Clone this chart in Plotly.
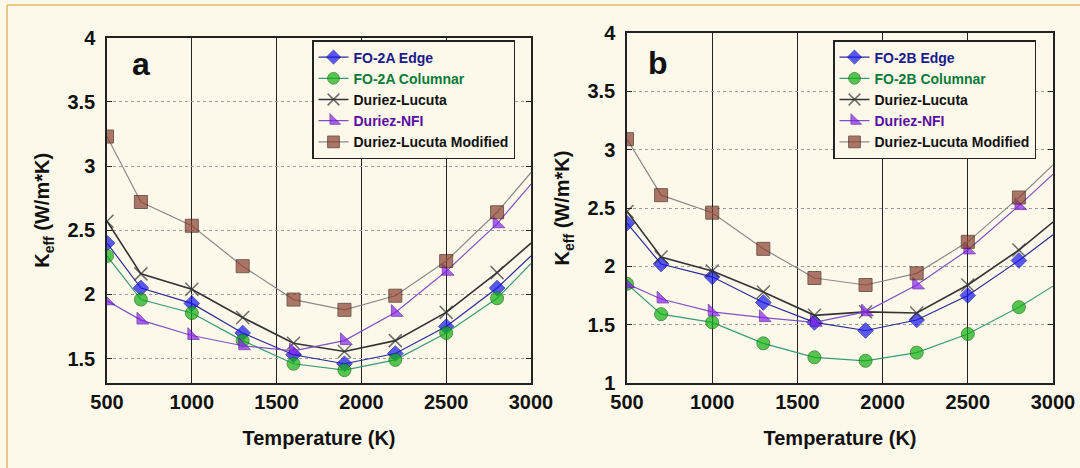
import plotly.graph_objects as go

temps = [500, 700, 1000, 1300, 1600, 1900, 2200, 2500, 2800, 3000]

# Panel a (FO-2A)
a_edge = [2.40, 2.05, 1.93, 1.70, 1.53, 1.46, 1.54, 1.75, 2.05, 2.30]
a_col = [2.30, 1.96, 1.855, 1.64, 1.46, 1.41, 1.49, 1.70, 1.97, 2.24]
a_dl = [2.57, 2.16, 2.04, 1.82, 1.62, 1.555, 1.64, 1.86, 2.17, 2.40]
a_nfi = [1.95, 1.80, 1.68, 1.60, 1.56, 1.64, 1.86, 2.18, 2.55, 2.86]
a_mod = [3.23, 2.72, 2.535, 2.22, 1.96, 1.88, 1.99, 2.26, 2.64, 2.95]

# Panel b (FO-2B)
b_edge = [2.37, 2.02, 1.91, 1.69, 1.52, 1.45, 1.54, 1.75, 2.05, 2.27]
b_col = [1.85, 1.59, 1.52, 1.34, 1.22, 1.19, 1.26, 1.42, 1.65, 1.83]
b_dl = [2.47, 2.08, 1.96, 1.78, 1.58, 1.61, 1.60, 1.84, 2.14, 2.38]
b_nfi = [1.85, 1.72, 1.61, 1.56, 1.52, 1.61, 1.84, 2.14, 2.52, 2.79]
b_mod = [3.09, 2.61, 2.46, 2.15, 1.90, 1.84, 1.94, 2.21, 2.59, 2.87]

x_ticks = [500, 1000, 1500, 2000, 2500, 3000]
a_yticks = [1.5, 2, 2.5, 3, 3.5, 4]
b_yticks = [1, 1.5, 2, 2.5, 3, 3.5, 4]

BG = "#fdf9ea"
FONT = "Liberation Sans, Arial, sans-serif"

styles = [
    # name template, line color, marker symbol, fill, outline, size, line width, text color
    ("FO-2{} Edge", "#2a2a9a", "diamond", "#1515f0", "#0a0aa0", 12, 1.2, "#1a1a8a"),
    ("FO-2{} Columnar", "#3a9a78", "circle", "#10b010", "#0a6a0a", 13, 1.2, "#0a7a3a"),
    ("Duriez-Lucuta", "#333333", "x-thin-open", "#333333", "#333333", 13, 1.6, "#111111"),
    ("Duriez-NFI", "#8050c8", "triangle-sw", "#8a20f0", "#5010a0", 13, 1.2, "#5a10a0"),
    ("Duriez-Lucuta Modified", "#8a8a8a", "square", "#8a4030", "#3a1a10", 13, 1.2, "#111111"),
]

fig = go.Figure()

panels = [
    ("A", [a_edge, a_col, a_dl, a_nfi, a_mod], "x", "y", "legend"),
    ("B", [b_edge, b_col, b_dl, b_nfi, b_mod], "x2", "y2", "legend2"),
]

n = len(temps)
for tag, series, xa, ya, lg in panels:
    for (tmpl, lc, sym, fill, outl, sz, lw, tc), vals in zip(styles, series):
        name = tmpl.format(tag) if "{}" in tmpl else tmpl
        sizes = [sz] * (n - 1) + [0]
        fig.add_trace(go.Scatter(
            x=temps, y=vals, xaxis=xa, yaxis=ya, legend=lg,
            mode="lines+markers",
            name=f"<span style='color:{tc}'>{name}</span>",
            line=dict(color=lc, width=lw),
            marker=dict(symbol=sym, size=sizes, color=fill,
                        line=dict(color=outl, width=1.5 if sym == "x-thin-open" else 1)),
            cliponaxis=True,
        ))

xdom_a = [107 / 1080, 531 / 1080]
xdom_b = [627 / 1080, 1053 / 1080]
ydom_a = [1 - 383 / 468, 1 - 37.7 / 468]
ydom_b = [1 - 383 / 468, 1 - 33 / 468]

def xaxis(dom, anchor):
    return dict(
        domain=dom, anchor=anchor, range=[500, 3000], automargin=False,
        tickvals=x_ticks, ticktext=[str(v) for v in x_ticks],
        showgrid=True, gridcolor="#222222", gridwidth=1.3,
        showline=True, linecolor="#222222", linewidth=1.5, mirror="ticks",
        ticks="inside", ticklen=5, tickcolor="#222222",
        tickfont=dict(family=FONT, size=20, color="#111111", weight="bold"),
        title=dict(text="Temperature (K)", standoff=19,
                   font=dict(family=FONT, size=20, color="#111111", weight="bold")),
        zeroline=False,
    )

def yaxis(dom, anchor, rng, ticks):
    return dict(
        domain=dom, anchor=anchor, range=rng, automargin=False,
        tickvals=ticks, ticktext=[("%g" % v) for v in ticks],
        showgrid=True, gridcolor="#9a9a9a", gridwidth=1, griddash="dot",
        showline=True, linecolor="#222222", linewidth=1.5, mirror="ticks",
        ticks="inside", ticklen=5, tickcolor="#222222",
        ticklabelstandoff=6,
        tickfont=dict(family=FONT, size=20, color="#111111", weight="bold"),
        title=dict(text="K<sub>eff</sub> (W/m*K)", standoff=12,
                   font=dict(family=FONT, size=20, color="#111111", weight="bold")),
        zeroline=False,
    )

legend_common = dict(
    bgcolor=BG, bordercolor="#222222", borderwidth=1.5,
    font=dict(family=FONT, size=14, color="#111111", weight="bold"),
    xanchor="left", yanchor="top", xref="paper", yref="paper",
    tracegroupgap=0, itemclick=False,
)

fig.update_layout(
    width=1080, height=468,
    margin=dict(l=0, r=0, t=0, b=0, autoexpand=False),
    paper_bgcolor=BG, plot_bgcolor=BG,
    xaxis=xaxis(xdom_a, "y"),
    yaxis=yaxis(ydom_a, "x", [1.31, 4], a_yticks),
    xaxis2=xaxis(xdom_b, "y2"),
    yaxis2=yaxis(ydom_b, "x2", [1, 4], b_yticks),
    legend=dict(x=312 / 1080, y=1 - 40 / 468, **legend_common),
    legend2=dict(x=833 / 1080, y=1 - 40 / 468, **legend_common),
    showlegend=True,
    annotations=[
        dict(text="<b>a</b>", x=141 / 1080, y=1 - 64 / 468, xref="paper", yref="paper",
             xanchor="center", yanchor="middle",
             showarrow=False, font=dict(family=FONT, size=32, color="#111111")),
        dict(text="<b>b</b>", x=658 / 1080, y=1 - 63 / 468, xref="paper", yref="paper",
             xanchor="center", yanchor="middle",
             showarrow=False, font=dict(family=FONT, size=32, color="#111111")),
    ],
    shapes=[
        dict(type="line", xref="paper", yref="paper", x0=7 / 1080, x1=7 / 1080, y0=0, y1=1 - 5 / 468,
             line=dict(color="#e8b46a", width=1.5)),
        dict(type="line", xref="paper", yref="paper", x0=7 / 1080, x1=1, y0=1 - 5 / 468, y1=1 - 5 / 468,
             line=dict(color="#e8b46a", width=1.5)),
    ],
)

fig.write_html(
    "out.html",
    config={"displayModeBar": False},
    post_script=(
        "document.body.style.margin='0';"
        "document.body.style.padding='0';"
        "document.body.style.overflow='hidden';"
        "document.body.style.background='" + BG + "';"
    ),
)
